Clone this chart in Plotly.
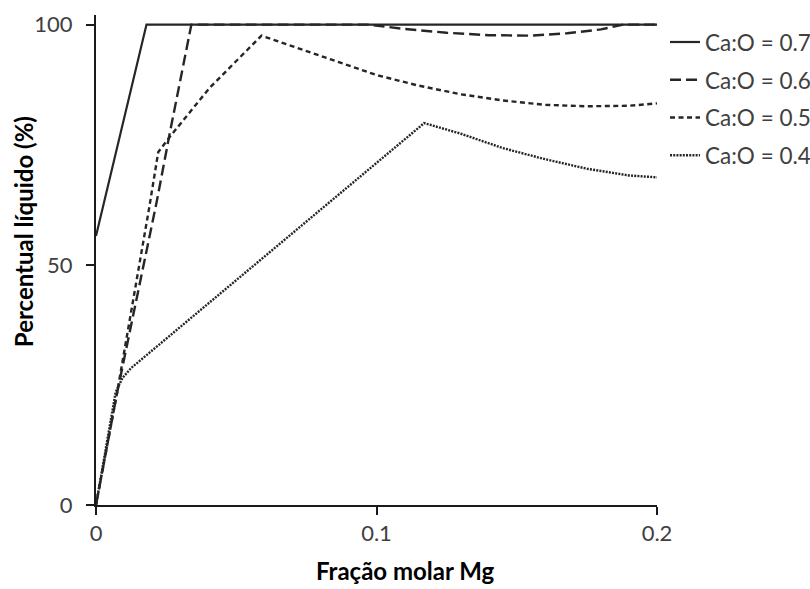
import plotly.graph_objects as go

# --- data ---
mg_07 = [0, 0.018, 0.2]
liq_07 = [56, 100, 100]

mg_06 = [0, 0.0074, 0.0216, 0.0264, 0.034, 0.097, 0.11, 0.125, 0.14, 0.155, 0.168, 0.18, 0.188, 0.2]
liq_06 = [0, 23, 63, 77.7, 100, 100, 99.1, 98.3, 97.8, 97.7, 98.2, 99, 100, 100]

mg_05 = [0, 0.0074, 0.019, 0.0222, 0.0264, 0.0406, 0.059, 0.075, 0.09, 0.1, 0.115, 0.13, 0.145, 0.16, 0.175, 0.19, 0.2]
liq_05 = [0, 23, 62, 73.5, 76.7, 86.9, 97.7, 94.5, 91.5, 89.5, 87.3, 85.5, 84.2, 83.3, 83, 83.1, 83.6]

mg_04 = [0, 0.007, 0.0095, 0.0125, 0.117, 0.13, 0.145, 0.16, 0.175, 0.19, 0.2]
liq_04 = [0, 23.5, 26.5, 28.5, 79.5, 77.3, 74.3, 72, 70, 68.6, 68.2]

labels = ["Ca:O = 0.7", "Ca:O = 0.6", "Ca:O = 0.5", "Ca:O = 0.4"]
x_ticks = [0, 0.1, 0.2]
x_ticklabels = ["0", "0.1", "0.2"]
y_ticks = [0, 50, 100]
y_ticklabels = ["0", "50", "100"]

series = [(mg_07, liq_07, "solid", 2.2),
          (mg_06, liq_06, "11px,5px", 2.4),
          (mg_05, liq_05, "5px,3.5px", 2.4),
          (mg_04, liq_04, "2px,1.2px", 2.4)]

fig = go.Figure()
for i, (xs, ys, dash, w) in enumerate(series):
    fig.add_trace(go.Scatter(
        x=xs, y=ys, mode="lines", name=labels[i],
        legendgroup=f"g{i}",
        line=dict(color="#262626", width=w, dash=dash),
    ))

fig.update_layout(
    width=810, height=589,
    paper_bgcolor="white", plot_bgcolor="white",
    margin=dict(l=96, r=153, t=15, b=84, autoexpand=False),
    font=dict(family="Lato", size=22, color="#404040"),
    showlegend=True,
    legend=dict(
        x=1.0143, xanchor="left", y=0.988, yanchor="top",
        font=dict(family="Lato", size=22.5, color="#404040"),
        tracegroupgap=5.5, itemwidth=30, bgcolor="rgba(0,0,0,0)",
    ),
    xaxis=dict(
        range=[0, 0.2], tickmode="array", tickvals=x_ticks, ticktext=x_ticklabels,
        showgrid=False, zeroline=False, showline=True, linecolor="#1a1a1a", linewidth=2,
        ticks="outside", ticklen=8, tickwidth=2, tickcolor="#1a1a1a",
        tickfont=dict(family="Lato", size=22, color="#404040"),
        ticklabelstandoff=0, automargin=False,
    ),
    yaxis=dict(
        range=[0, 102], tickmode="array", tickvals=y_ticks, ticktext=y_ticklabels,
        showgrid=False, zeroline=False, showline=True, linecolor="#1a1a1a", linewidth=2,
        ticks="outside", ticklen=8, tickwidth=2, tickcolor="#1a1a1a",
        tickfont=dict(family="Lato", size=22, color="#404040"),
        ticklabelstandoff=9, automargin=False,
    ),
    annotations=[
        dict(text="<b>Percentual líquido (%)</b>", xref="paper", yref="paper",
             x=-0.130, y=0.557, textangle=-90, showarrow=False,
             xanchor="center", yanchor="middle",
             font=dict(family="Lato", size=24, color="#000000")),
        dict(text="<b>Fração molar Mg</b>", xref="paper", yref="paper",
             x=0.552, y=-0.1673, showarrow=False,
             xanchor="center", yanchor="bottom",
             font=dict(family="Lato", size=24, color="#000000")),
    ],
)

fig.write_html(
    "out.html",
    config={"displayModeBar": False},
    post_script="document.body.style.margin='0';document.body.style.overflow='hidden';",
)
